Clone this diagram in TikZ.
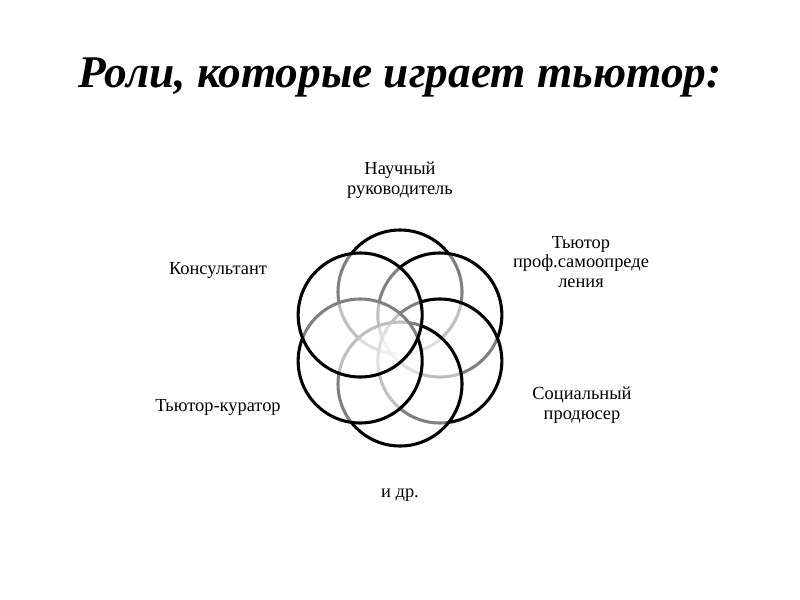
\documentclass[tikz,border=0pt]{standalone}
\usepackage{fontspec}
\setmainfont{Liberation Serif}
\usetikzlibrary{positioning,calc}

\begin{document}
\begin{tikzpicture}[x=0.75pt,y=0.75pt,
  ring/.style={circle,draw=black,line width=2.3pt,fill=white,fill opacity=0.5,minimum size=93pt,inner sep=0pt},
  role/.style={align=center,font=\fontsize{13.8}{14.6}\selectfont}]
  \useasboundingbox (0,0) rectangle (800,-600);
  \node (title) at (400,-77) {\fontsize{34}{40}\selectfont\bfseries\itshape Роли, которые играет тьютор:};
  % the flower, drawn clockwise from the top
  \coordinate (mid) at (400,-338);
  \foreach \ang [count=\i] in {90,30,-30,-90,-150,150}
    \node[ring] (ring\i) at ($(mid)+(\ang:46)$) {};
  \node[role] (tutor1) at (400,-180) {Научный\\руководитель};
  \node[role] (tutor2) at (581,-262) {Тьютор\\проф.самоопреде\\ления};
  \node[role] (tutor3) at (582,-405) {Социальный\\продюсер};
  \node[role] (tutor4) at (400,-495) {и др.};
  \node[role] (tutor5) at (218,-407) {Тьютор-куратор};
  \node[role] (tutor6) at (218,-270) {Консультант};
\end{tikzpicture}
\end{document}
